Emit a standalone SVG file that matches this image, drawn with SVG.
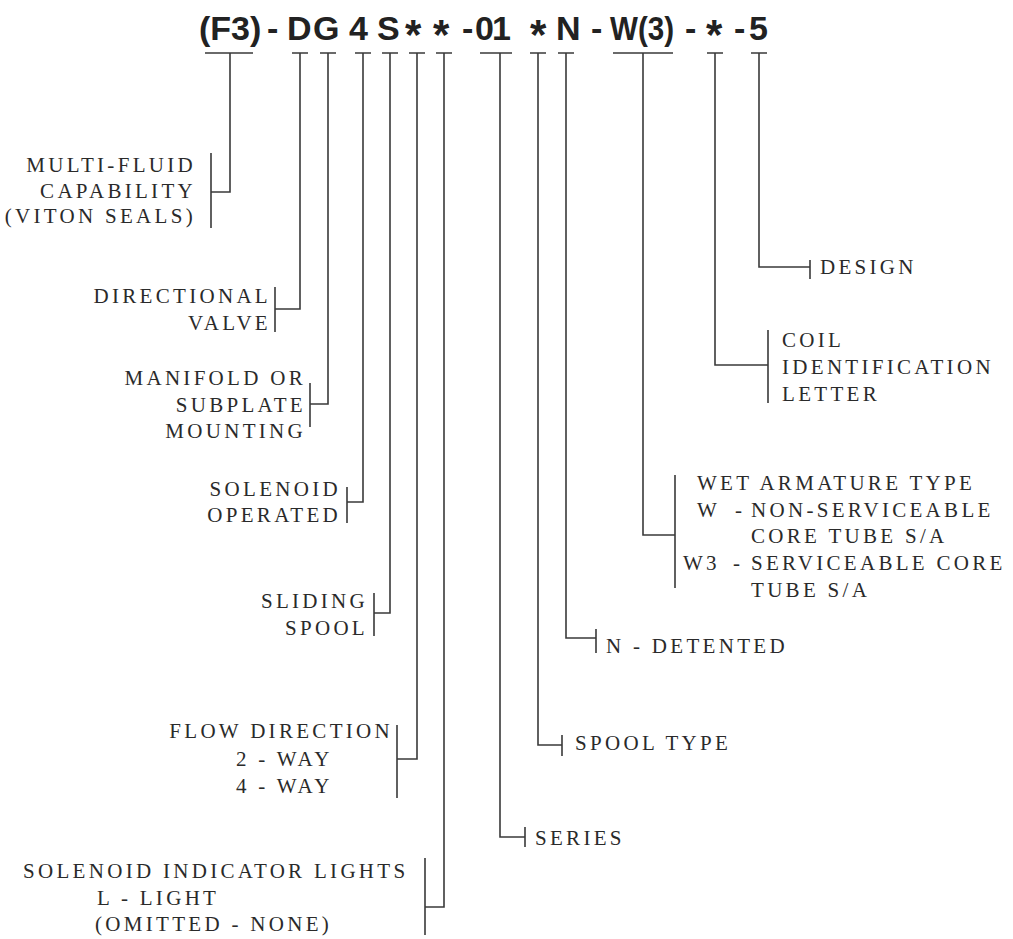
<svg xmlns="http://www.w3.org/2000/svg" width="1013" height="939" viewBox="0 0 1013 939">
<style>
.hd{font-family:"Liberation Sans",Arial,sans-serif;font-weight:bold;font-size:34px;fill:#222}
.ast{font-size:42px}
.lb{font-family:"Liberation Serif","Times New Roman",serif;font-size:21px;letter-spacing:3.3px;fill:#2a2a2a}
.r{text-anchor:end}
.ln{fill:none;stroke:#3a3a3a;stroke-width:1.6}
</style>
<rect width="1013" height="939" fill="#fff"/>
<g id="code">
<text class="hd" y="40"><tspan x="199">(F3)</tspan><tspan x="267">-</tspan><tspan x="287">D</tspan><tspan x="313">G</tspan><tspan x="349">4</tspan><tspan x="377">S</tspan><tspan class="ast" x="405" y="49">*</tspan><tspan class="ast" x="433" y="49">*</tspan><tspan x="462" y="40">-</tspan><tspan x="475">0</tspan><tspan x="492">1</tspan><tspan class="ast" x="530" y="49">*</tspan><tspan x="556" y="40">N</tspan><tspan x="591">-</tspan></text>
<text class="hd" x="610" y="40" textLength="64" lengthAdjust="spacingAndGlyphs" font-size="32">W(3)</text>
<text class="hd" y="40"><tspan x="685">-</tspan><tspan class="ast" x="706" y="49">*</tspan><tspan x="734" y="40">-</tspan><tspan x="749">5</tspan></text>
</g>
<g id="connectors" class="ln">
<path d="M205 53H253M230 53V192H211M211 153V228"/>
<path d="M292 53H308M300 53V309H275M275 287V332"/>
<path d="M320 53H336M328 53V404H310M310 383V427"/>
<path d="M355 53H371M363 53V502H347M347 487V523"/>
<path d="M382 53H398M390 53V613H374M374 593V636"/>
<path d="M409 53H425M417 53V759H397M397 725V798"/>
<path d="M436 53H452M444 53V907H425M425 858V935"/>
<path d="M480 53H512M500 53V837H525M525 827V847"/>
<path d="M530 53H546M538 53V745H562M562 735V756"/>
<path d="M558 53H574M566 53V638H596M596 629V653"/>
<path d="M613 53H673M643 53V535H675M675 475V588"/>
<path d="M707 53H723M715 53V365H768M768 330V403"/>
<path d="M751 53H767M759 53V267H810M810 260V279"/>
</g>
<g id="multi-fluid"><text class="lb r"><tspan x="196" y="172">MULTI-FLUID</tspan><tspan x="196" y="198">CAPABILITY</tspan><tspan x="196" y="223">(VITON SEALS)</tspan></text></g>
<g id="directional"><text class="lb r"><tspan x="271" y="303">DIRECTIONAL</tspan><tspan x="271" y="330">VALVE</tspan></text></g>
<g id="manifold"><text class="lb r"><tspan x="306" y="385">MANIFOLD OR</tspan><tspan x="306" y="412">SUBPLATE</tspan><tspan x="306" y="438">MOUNTING</tspan></text></g>
<g id="solenoid"><text class="lb r"><tspan x="341" y="496">SOLENOID</tspan><tspan x="341" y="522">OPERATED</tspan></text></g>
<g id="sliding"><text class="lb r"><tspan x="368" y="608">SLIDING</tspan><tspan x="368" y="635">SPOOL</tspan></text></g>
<g id="flow"><text class="lb"><tspan class="r" x="393" y="738">FLOW DIRECTION</tspan><tspan x="236" y="766">2 - WAY</tspan><tspan x="236" y="793">4 - WAY</tspan></text></g>
<g id="lights"><text class="lb"><tspan x="23" y="878">SOLENOID INDICATOR LIGHTS</tspan><tspan x="97" y="905">L - LIGHT</tspan><tspan x="95" y="931">(OMITTED - NONE)</tspan></text></g>
<g id="series"><text class="lb" x="535" y="845">SERIES</text></g>
<g id="spool-type"><text class="lb" x="575" y="750">SPOOL TYPE</text></g>
<g id="detented"><text class="lb" x="606" y="653">N - DETENTED</text></g>
<g id="wet"><text class="lb"><tspan x="697" y="490">WET ARMATURE TYPE</tspan><tspan x="697" y="517">W</tspan><tspan x="735" y="517">-</tspan><tspan x="751" y="517">NON-SERVICEABLE</tspan><tspan x="751" y="543">CORE TUBE S/A</tspan><tspan x="683" y="570">W3</tspan><tspan x="733" y="570">-</tspan><tspan x="751" y="570">SERVICEABLE CORE</tspan><tspan x="751" y="597">TUBE S/A</tspan></text></g>
<g id="coil"><text class="lb"><tspan x="782" y="347">COIL</tspan><tspan x="782" y="374">IDENTIFICATION</tspan><tspan x="782" y="401">LETTER</tspan></text></g>
<g id="design"><text class="lb" x="820" y="274">DESIGN</text></g>
</svg>
